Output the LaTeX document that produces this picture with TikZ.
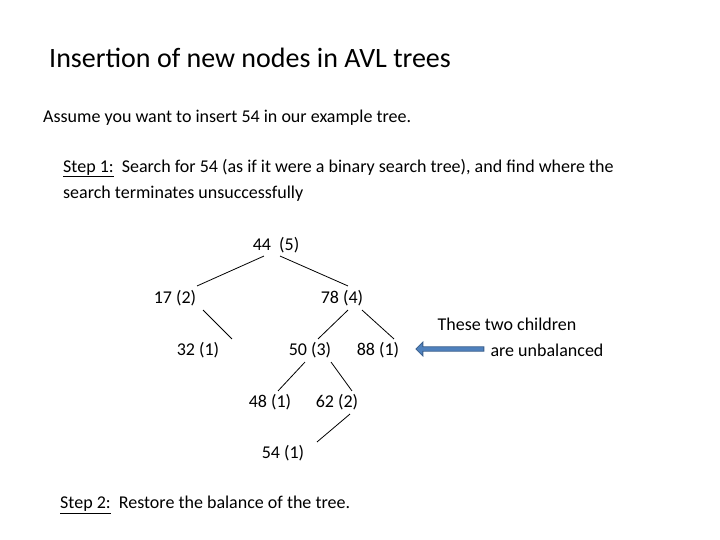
\documentclass[tikz,border=0pt]{standalone}
\usepackage{fontspec}
\setmainfont{Carlito}
\usetikzlibrary{shapes.arrows}
\definecolor{arrowblue}{HTML}{4F81BD}
\definecolor{arrowedge}{HTML}{385D8A}
\tikzset{
  key/.style={inner sep=1pt, font=\fontsize{18}{22}\selectfont},
  txt/.style={anchor=west, inner sep=0pt, font=\fontsize{18}{22}\selectfont},
  edge/.style={thick, black}
}
\begin{document}
\begin{tikzpicture}[x=1pt,y=-1pt]

  \useasboundingbox (0,0) rectangle (720,540);

  % headings
  \node[txt, font=\fontsize{28}{33}\selectfont] (title) at (49,58) {Insertion of new nodes in AVL trees};
  \node[txt] (intro) at (43,118) {Assume you want to insert 54 in our example tree.};
  \node[txt] (stepa) at (63,168) {\underline{Step 1:}\ \ Search for 54 (as if it were a binary search tree), and find where the};
  \node[txt] (stepb) at (63,194) {search terminates unsuccessfully};

  % tree nodes
  \node[key] (n44) at (276,245) {44\ \ (5)};
  \node[key] (n17) at (175,298) {17 (2)};
  \node[key] (n78) at (342,298) {78 (4)};
  \node[key] (n32) at (198,350) {32 (1)};
  \node[key] (n50) at (310,350) {50 (3)};
  \node[key] (n88) at (378,350) {88 (1)};
  \node[key] (n48) at (270,402) {48 (1)};
  \node[key] (n62) at (337,402) {62 (2)};
  \node[key] (n54) at (283,453) {54 (1)};

  % edges
  \draw[edge] ([xshift=-12pt,yshift=-2pt]n44.south) -- ([xshift=22pt,yshift=3pt]n17.north);
  \draw[edge] ([xshift=4pt,yshift=-2pt]n44.south) -- ([xshift=6pt,yshift=3pt]n78.north);
  \draw[edge] ([xshift=28pt,yshift=-3pt]n17.south) -- ([xshift=34pt,yshift=2pt]n32.north);
  \draw[edge] ([xshift=6pt,yshift=-3pt]n78.south) -- ([xshift=8pt,yshift=2pt]n50.north);
  \draw[edge] ([xshift=20pt,yshift=-3pt]n78.south) -- ([xshift=16pt,yshift=2pt]n88.north);
  \draw[edge] ([xshift=-5pt,yshift=-3pt]n50.south) -- ([xshift=8pt,yshift=2pt]n48.north);
  \draw[edge] ([xshift=21pt,yshift=-3pt]n50.south) -- ([xshift=15pt,yshift=2pt]n62.north);
  \draw[edge] ([xshift=13pt,yshift=-3pt]n62.south) -- ([xshift=34pt,yshift=2pt]n54.north);

  % note with arrow
  \node[key] (notea) at (507,324) {These two children};
  \node[key] (noteb) at (547,350) {are unbalanced};
  \node[single arrow, shape border rotate=180, fill=arrowblue, draw=arrowedge, thick,
        minimum height=68pt, minimum width=14pt, single arrow head extend=3pt,
        inner sep=1pt] (pointer) at (451,349) {};

  \node[txt] (stepc) at (60,505) {\underline{Step 2:}\ \ Restore the balance of the tree.};
\end{tikzpicture}
\end{document}
